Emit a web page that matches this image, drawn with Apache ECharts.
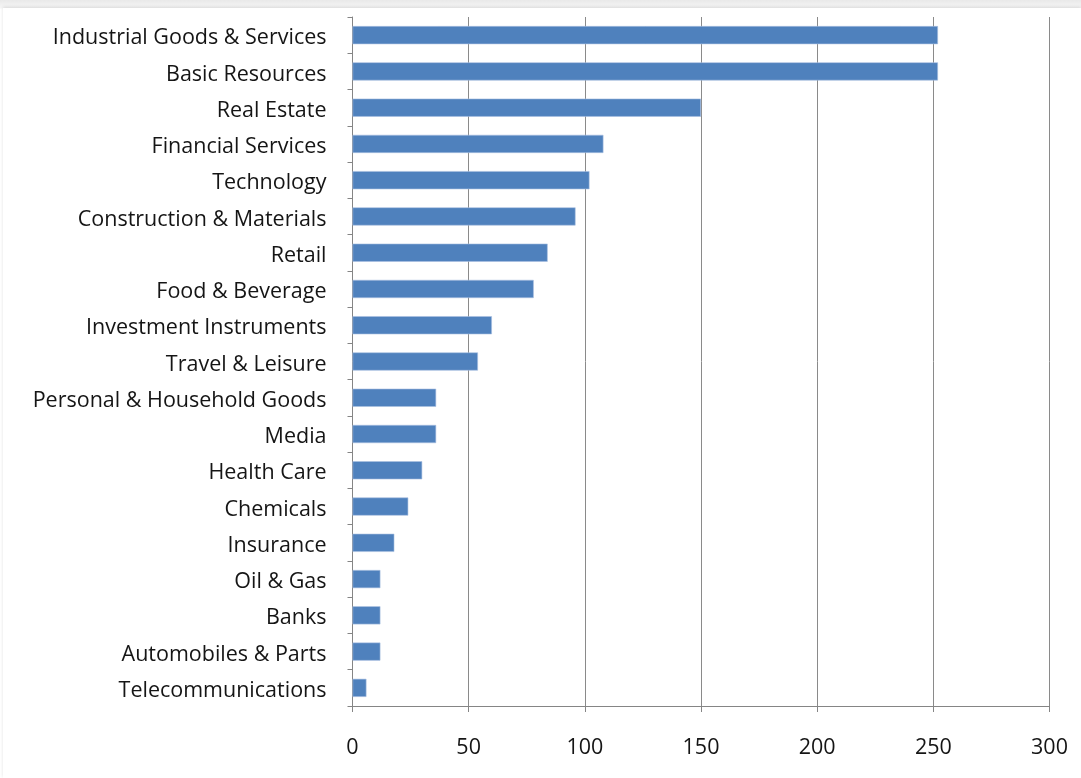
<!DOCTYPE html>
<html>
<head>
<meta charset="utf-8">
<script src="https://cdn.jsdelivr.net/npm/echarts@6/dist/echarts.min.js"></script>
<style>
  html, body { margin: 0; padding: 0; background: #ffffff; }
  #wrap { position: relative; width: 1081px; height: 778px; overflow: hidden;
          background: linear-gradient(#e9e9e9, #f6f6f6 8px, #ffffff 9px); }
  #card { position: absolute; left: 3px; top: 8px; right: 0; bottom: 0; background: #fff;
          box-shadow: 0 -1px 3px rgba(0,0,0,0.12); }
  #chart { position: absolute; left: 0; top: 0; width: 1081px; height: 778px; }
</style>
</head>
<body>
<div id="wrap">
  <div id="card"></div>
  <div id="chart"></div>
</div>
<script>
const categories = [
  'Industrial Goods & Services', 'Basic Resources', 'Real Estate', 'Financial Services',
  'Technology', 'Construction & Materials', 'Retail', 'Food & Beverage',
  'Investment Instruments', 'Travel & Leisure', 'Personal & Household Goods', 'Media',
  'Health Care', 'Chemicals', 'Insurance', 'Oil & Gas', 'Banks',
  'Automobiles & Parts', 'Telecommunications'
];
const values = [252, 252, 150, 108, 102, 96, 84, 78, 60, 54, 36, 36, 30, 24, 18, 12, 12, 12, 6];
const xMin = 0, xMax = 300, xStep = 50;

const chart = echarts.init(document.getElementById('chart'), null, { renderer: 'canvas' });
const font = '"Open Sans", Lato, "DejaVu Sans", sans-serif';
chart.setOption({
  backgroundColor: 'transparent',
  animation: false,
  grid: { left: 352.5, right: 31.5, top: 17, bottom: 72, containLabel: false },
  xAxis: {
    type: 'value', min: xMin, max: xMax, interval: xStep,
    axisLine: { show: true, lineStyle: { color: '#858585', width: 1 } },
    axisTick: { show: true, length: 6, lineStyle: { color: '#858585' } },
    splitLine: { show: true, lineStyle: { color: '#8a8a8a', width: 1 } },
    axisLabel: { color: '#151515', fontSize: 21.5, fontFamily: font, margin: 31 }
  },
  yAxis: {
    type: 'category', data: categories, inverse: true,
    axisLine: { show: true, lineStyle: { color: '#858585', width: 1 } },
    axisTick: { show: true, length: 5, inside: false, lineStyle: { color: '#858585' } },
    axisLabel: {
      margin: 26,
      formatter: '{t|{value}}',
      rich: {
        // nudge the category names a few pixels below the band centre
        t: { color: '#151515', fontSize: 21.5, fontFamily: font, padding: [6, 0, 0, 0] }
      }
    }
  },
  series: [{
    type: 'bar', data: values, barWidth: '50%',
    itemStyle: { color: '#4f81bd', borderColor: '#a9c0e0', borderWidth: 0.6 }
  }]
});
</script>
</body>
</html>
